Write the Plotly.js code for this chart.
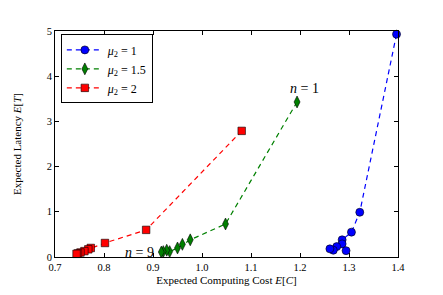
<!DOCTYPE html>
<html>
<head>
<meta charset="utf-8">
<script src="https://cdn.plot.ly/plotly-3.0.1.min.js"></script>
<style>html,body{margin:0;padding:0;background:#fff;}#chart{width:443px;height:295px;}</style>
</head>
<body>
<div id="chart"></div>
<script>
// Series mu2 = 1 (blue circles)
const mu1Cost    = [1.397, 1.322, 1.305, 1.286, 1.286, 1.294, 1.275, 1.268, 1.261];
const mu1Latency = [4.93, 0.99, 0.55, 0.38, 0.29, 0.14, 0.23, 0.15, 0.18];
// Series mu2 = 1.5 (green diamonds)
const mu15Cost    = [1.194, 1.048, 0.976, 0.960, 0.950, 0.934, 0.928, 0.921, 0.917];
const mu15Latency = [3.43, 0.73, 0.38, 0.28, 0.20, 0.12, 0.15, 0.12, 0.11];
// Series mu2 = 2 (red squares)
const mu2Cost    = [1.081, 0.886, 0.802, 0.773, 0.768, 0.760, 0.752, 0.747, 0.744];
const mu2Latency = [2.79, 0.60, 0.31, 0.20, 0.17, 0.13, 0.10, 0.08, 0.07];

const seriesNames = ['<i>μ</i><sub>2</sub> = 1', '<i>μ</i><sub>2</sub> = 1.5', '<i>μ</i><sub>2</sub> = 2'];
const xTicks = [0.7, 0.8, 0.9, 1.0, 1.1, 1.2, 1.3, 1.4];
const yTicks = [0, 1, 2, 3, 4, 5];
const labelFirst = {text: '<i>n</i> = 1', x: 1.21, y: 3.72};
const labelLast  = {text: '<i>n</i> = 9', x: 0.872, y: 0.10};

const FONT = 'Liberation Serif, DejaVu Serif, serif';
function tr(x, y, name, color, symbol, size) {
  return {
    x: x, y: y, name: name, type: 'scatter', mode: 'lines+markers',
    line: {color: color, width: 1.2, dash: '5px,4px'},
    marker: {color: color, symbol: symbol, size: size, line: {color: '#000', width: 0.6}},
    cliponaxis: false
  };
}
const data = [
  tr(mu1Cost, mu1Latency, seriesNames[0], '#0000ff', 'circle', 8),
  tr(mu15Cost, mu15Latency, seriesNames[1], '#008000', 'diamond-tall', 8.5),
  tr(mu2Cost, mu2Latency, seriesNames[2], '#ff0000', 'square', 7.5)
];
const axisCommon = {
  showgrid: false, zeroline: false, showline: true, linecolor: '#000', linewidth: 1,
  mirror: 'allticks', ticks: 'inside', ticklen: 4, tickcolor: '#000', tickwidth: 1,
  tickfont: {family: FONT, size: 10.5, color: '#000'}
};
const layout = {
  width: 443, height: 295,
  margin: {l: 55, r: 45, t: 31, b: 38},
  paper_bgcolor: '#fff', plot_bgcolor: '#fff',
  font: {family: FONT, color: '#000'},
  xaxis: Object.assign({}, axisCommon, {
    range: [0.7, 1.4], tickvals: xTicks, ticktext: xTicks.map(v => v.toFixed(1)),
    title: {text: 'Expected Computing Cost <i>E</i>[<i>C</i>]', font: {family: FONT, size: 11}, standoff: 4}
  }),
  yaxis: Object.assign({}, axisCommon, {
    range: [0, 5], tickvals: yTicks, ticktext: yTicks.map(String),
    title: {text: 'Expected Latency <i>E</i>[<i>T</i>]', font: {family: FONT, size: 11}, standoff: 22}
  }),
  showlegend: true,
  legend: {
    x: 0.017, y: 0.985, xanchor: 'left', yanchor: 'top',
    bgcolor: '#fff', bordercolor: '#000', borderwidth: 1,
    font: {family: FONT, size: 12}, tracegroupgap: 0, itemwidth: 36
  },
  annotations: [
    {x: labelFirst.x, y: labelFirst.y, text: labelFirst.text, showarrow: false, font: {family: FONT, size: 14}, xref: 'x', yref: 'y'},
    {x: labelLast.x, y: labelLast.y, text: labelLast.text, showarrow: false, font: {family: FONT, size: 14}, xref: 'x', yref: 'y'}
  ]
};
Plotly.newPlot('chart', data, layout, {displayModeBar: false, staticPlot: true});
</script>
</body>
</html>
